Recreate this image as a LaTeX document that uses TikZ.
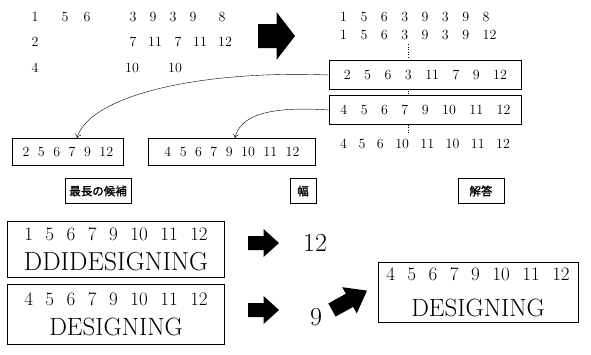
\documentclass[tikz,border=0pt]{standalone}
\usepackage{fontspec}
\newfontfamily\cjk[FakeBold=1.5]{Noto Sans CJK JP}
\usetikzlibrary{positioning}
\usetikzlibrary{arrows.meta}

\newcommand\numrow[2]{\foreach \val [count=\k] in {#2}{\ifnum\k>1\hspace{#1}\fi\val}}

\tikzset{blockarrow/.pic={\fill (0,-0.25) -- (0.5,-0.25) -- (0.5,-0.5) -- (1,0) -- (0.5,0.5) -- (0.5,0.25) -- (0,0.25) -- cycle;}}

\begin{document}
\begin{tikzpicture}[x=1pt,y=-1pt,
  num/.style={font=\fontsize{14}{16}\selectfont,inner sep=0pt},
  seqbox/.style={draw,line width=0.8pt,fill=white,inner xsep=6pt,inner ysep=0pt,minimum height=29pt,font=\fontsize{14}{16}\selectfont},
  bigbox/.style={draw,line width=0.8pt,fill=white,align=center,inner sep=0pt,font=\fontsize{19}{30}\selectfont},
  tagbox/.style={draw,line width=0.8pt,font=\cjk\fontsize{11.5}{13}\selectfont,minimum height=25pt,inner sep=3pt},
  score/.style={font=\fontsize{26}{28}\selectfont,inner sep=0pt}]
\useasboundingbox (0,0) rectangle (591,354);

\foreach \x/\v [count=\i] in {35/1,65/5,87/6,133/3,153/9,173/3,193/9,222/8}
  \node[num] (a\i) at (\x,17) {\v};
\foreach \x/\v [count=\i] in {35/2,133/7,155/11,178/7,200/11,225/12}
  \node[num] (b\i) at (\x,42) {\v};
\foreach \x/\v [count=\i] in {35/4,132/10,175/10}
  \node[num] (c\i) at (\x,68) {\v};

\pic[xscale=37,yscale=48] at (258,36) {blockarrow};

\draw[dotted,line width=0.6pt] (408,44) -- (408,134);
\node[num,anchor=west] (r1) at (340,17) {\numrow{13.5pt}{1,5,6,3,9,3,9,8}};
\node[num,anchor=west] (r2) at (340,35) {\numrow{13.5pt}{1,5,6,3,9,3,9,12}};
\node[seqbox,anchor=west,minimum width=192pt] (cand1) at (329,75) {\numrow{13.5pt}{2,5,6,3,11,7,9,12}};
\node[seqbox,anchor=west,minimum width=192pt] (cand2) at (329,110) {\numrow{13.5pt}{4,5,6,7,9,10,11,12}};
\node[num,anchor=west] (r5) at (340,144) {\numrow{11.5pt}{4,5,6,10,11,10,11,12}};

\node[seqbox,anchor=west,minimum height=27pt,minimum width=111pt] (best1) at (12,152) {\numrow{8.5pt}{2,5,6,7,9,12}};
\node[seqbox,anchor=west,minimum height=27pt,minimum width=167pt] (best2) at (148,152) {\numrow{8.5pt}{4,5,6,7,9,10,11,12}};

\draw[-{To[length=4pt,width=6pt]}] (cand1.west) .. controls (200,70) and (90,95) .. ([xshift=9pt]best1.north);
\draw[-{To[length=4pt,width=6pt]}] (cand2.west) .. controls (270,106) and (240,115) .. ([xshift=3pt]best2.north);

\node[tagbox,minimum width=66pt] (longest) at (98,191) {最長の候補};
\node[tagbox,minimum width=26pt] (span) at (303,191) {幅};
\node[tagbox,minimum width=46pt] (answer) at (481,191) {解答};

\node[bigbox,minimum width=217pt,minimum height=56pt] (pair1) at (116,249)
  {\numrow{12.5pt}{1,5,6,7,9,10,11,12}\\{\fontsize{26}{30}\selectfont DDIDESIGNING}};
\node[bigbox,minimum width=217pt,minimum height=60pt] (pair2) at (116,314)
  {\numrow{12.5pt}{4,5,6,7,9,10,11,12}\\{\fontsize{25}{30}\selectfont DESIGNING}};

\pic[xscale=31,yscale=28] at (248,243) {blockarrow};
\pic[xscale=31,yscale=28] at (248,310) {blockarrow};
\node[score] (len1) at (315,243) {12};
\node[score] (len2) at (316,317) {9};
\pic[rotate=29,xscale=40,yscale=30] at (332,310) {blockarrow};

\node[bigbox,minimum width=200pt,minimum height=60pt,font=\fontsize{19}{36}\selectfont] (result) at (478,292)
  {\numrow{12.5pt}{4,5,6,7,9,10,11,12}\\{\fontsize{25}{36}\selectfont DESIGNING}};

\end{tikzpicture}
\end{document}
